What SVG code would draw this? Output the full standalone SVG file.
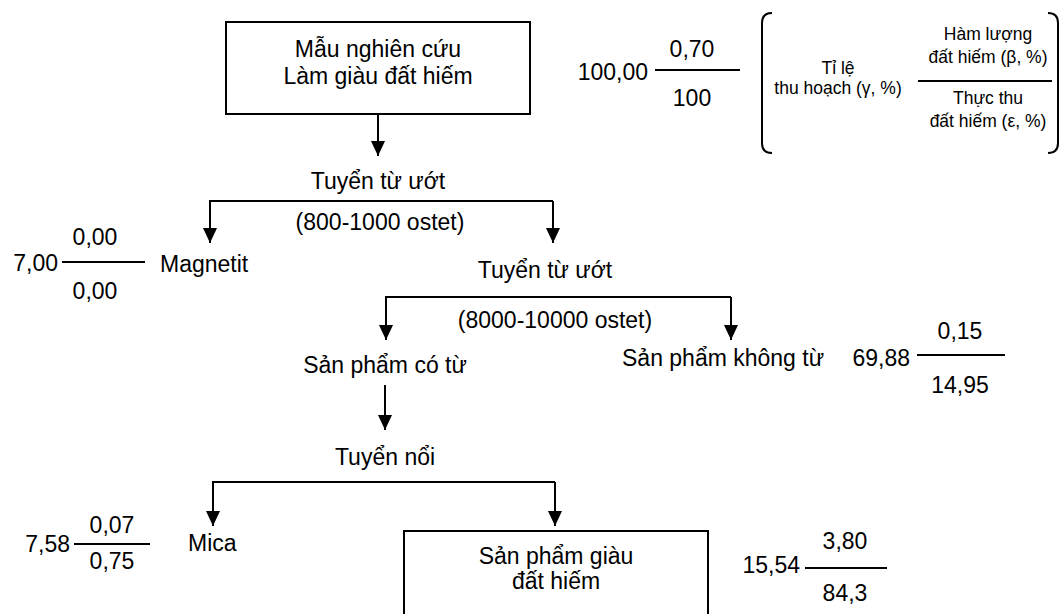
<svg xmlns="http://www.w3.org/2000/svg" width="1062" height="614" viewBox="0 0 1062 614">
<defs>
<style>
text{font-family:"Liberation Sans",Arial,sans-serif;fill:#000}
.t{font-size:23px}
.c{text-anchor:middle}
.e{text-anchor:end}
.s{font-size:17.5px}
.ln{stroke:#000;stroke-width:2;fill:none}
.box{fill:#fff;stroke:#000;stroke-width:2}
</style>
<marker id="ah" markerUnits="userSpaceOnUse" markerWidth="16" markerHeight="16" viewBox="0 0 16 16" refX="15" refY="8" orient="auto">
<path d="M0,1 L15,8 L0,15 Z" fill="#000"/>
</marker>
</defs>
<rect width="1062" height="614" fill="#fff"/>
<g id="connectors">
<path class="ln" d="M378,114 V156" marker-end="url(#ah)"/>
<path class="ln" d="M553,201 H210 V243" marker-end="url(#ah)"/>
<path class="ln" d="M553,201 V243" marker-end="url(#ah)"/>
<path class="ln" d="M731,297 H386 V340" marker-end="url(#ah)"/>
<path class="ln" d="M731,297 V340" marker-end="url(#ah)"/>
<path class="ln" d="M385,385 V430" marker-end="url(#ah)"/>
<path class="ln" d="M555,482 H213 V526" marker-end="url(#ah)"/>
<path class="ln" d="M555,482 V526" marker-end="url(#ah)"/>
</g>
<g id="n-sample">
<rect class="box" x="226" y="22" width="304" height="92"/>
<text class="t c" x="378" y="57">Mẫu nghiên cứu</text>
<text class="t c" x="378" y="84">Làm giàu đất hiếm</text>
</g>
<g id="f-sample">
<text class="t e" x="648" y="80">100,00</text>
<line class="ln" x1="655" y1="70" x2="740" y2="70"/>
<text class="t c" x="692" y="57">0,70</text>
<text class="t c" x="692" y="106">100</text>
</g>
<g id="legend">
<path class="ln" d="M772,13 Q762,13 762,23 V143 Q762,153 772,153"/>
<path class="ln" d="M1048,13 Q1058,13 1058,23 V143 Q1058,153 1048,153"/>
<text class="s c" x="838" y="74">Tỉ lệ</text>
<text class="s c" x="838" y="94">thu hoạch (γ, %)</text>
<text class="s c" x="988" y="40">Hàm lượng</text>
<text class="s c" x="988" y="63">đất hiếm (β, %)</text>
<line class="ln" x1="918" y1="81" x2="1052" y2="81"/>
<text class="s c" x="988" y="104">Thực thu</text>
<text class="s c" x="988" y="127">đất hiếm (ε, %)</text>
</g>
<g id="n-wet1">
<text class="t c" x="378" y="189">Tuyển từ ướt</text>
<text class="t c" x="380" y="230">(800-1000 ostet)</text>
</g>
<g id="n-magnetit">
<text class="t" x="160" y="272">Magnetit</text>
<text class="t e" x="58" y="271">7,00</text>
<line class="ln" x1="62" y1="262" x2="145" y2="262"/>
<text class="t c" x="95" y="245">0,00</text>
<text class="t c" x="95" y="299">0,00</text>
</g>
<g id="n-wet2">
<text class="t c" x="545" y="278">Tuyển từ ướt</text>
<text class="t c" x="555" y="328">(8000-10000 ostet)</text>
</g>
<g id="n-mag">
<text class="t c" x="385" y="373">Sản phẩm có từ</text>
</g>
<g id="n-nonmag">
<text class="t" x="622" y="366">Sản phẩm không từ</text>
<text class="t e" x="910" y="366">69,88</text>
<line class="ln" x1="917" y1="355" x2="1005" y2="355"/>
<text class="t c" x="960" y="339">0,15</text>
<text class="t c" x="960" y="393">14,95</text>
</g>
<g id="n-flot">
<text class="t c" x="385" y="465">Tuyển nổi</text>
</g>
<g id="n-mica">
<text class="t" x="188" y="551">Mica</text>
<text class="t e" x="70" y="552">7,58</text>
<line class="ln" x1="74" y1="544" x2="150" y2="544"/>
<text class="t c" x="112" y="533">0,07</text>
<text class="t c" x="112" y="569">0,75</text>
</g>
<g id="n-product">
<rect class="box" x="404" y="531" width="304" height="110"/>
<text class="t c" x="556" y="564">Sản phẩm giàu</text>
<text class="t c" x="556" y="589">đất hiếm</text>
<text class="t e" x="800" y="573">15,54</text>
<line class="ln" x1="805" y1="568" x2="887" y2="568"/>
<text class="t c" x="845" y="549">3,80</text>
<text class="t c" x="845" y="601">84,3</text>
</g>
</svg>
